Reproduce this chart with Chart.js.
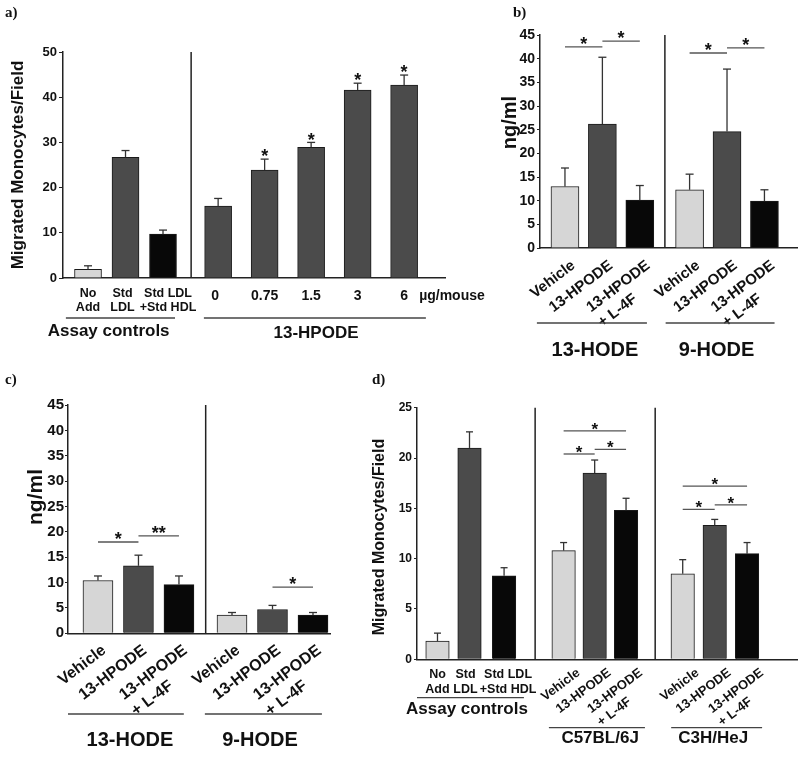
<!DOCTYPE html>
<html><head><meta charset="utf-8">
<script src="https://cdn.jsdelivr.net/npm/chart.js@4.4.1/dist/chart.umd.min.js"></script>
<style>
html,body{margin:0;padding:0;background:#fff;}
#wrap{position:relative;width:800px;height:758px;overflow:hidden;background:#fff;}
canvas{position:absolute;}
</style></head><body>
<div id="wrap">
<canvas id="ca" width="500" height="365" style="left:0;top:0"></canvas>
<canvas id="cb" width="310" height="365" style="left:490px;top:0"></canvas>
<canvas id="cc" width="370" height="393" style="left:0;top:365px"></canvas>
<canvas id="cd" width="435" height="393" style="left:365px;top:365px"></canvas>
</div>
<script>
// ================= DATA =================
// Panel a
const aCategories = [['No','Add'],['Std','LDL'],['Std LDL','+Std HDL'],'0','0.75','1.5','3','6'];
const aValues = [1.9, 26.7, 9.7, 15.9, 23.9, 28.9, 41.6, 42.7];
const aErrors = [0.8, 1.5, 0.9, 1.7, 2.4, 1.1, 1.5, 2.2];
const aStars = [null, null, null, null, '*', '*', '*', '*'];
const aGroups = ['Assay controls', '13-HPODE'];
const aUnit = 'µg/mouse';
const aYTitle = 'Migrated Monocytes/Field';

// Panels b and c share categories
const hodeCategories = ['Vehicle','13-HPODE',['13-HPODE','+ L-4F'],'Vehicle','13-HPODE',['13-HPODE','+ L-4F']];
const hodeGroups = ['13-HODE', '9-HODE'];
const hodeYTitle = 'ng/ml';

// Panel b
const bValues = [13.0, 26.2, 10.1, 12.3, 24.6, 9.9];
const bErrors = [3.9, 14.1, 3.1, 3.3, 13.2, 2.4];
const bSig = [[0,1,42.5,'*'],[1,2,43.7,'*'],[3,4,41.2,'*'],[4,5,42.3,'*']];

// Panel c
const cValues = [10.4, 13.3, 9.6, 3.6, 4.7, 3.6];
const cErrors = [0.9, 2.1, 1.7, 0.5, 0.8, 0.5];
const cSig = [[0,1,18.0,'*'],[1,2,19.2,'**'],[4,5,9.1,'*']];

// Panel d
const dCategories = [['No','Add'],['Std','LDL'],['Std LDL','+Std HDL'],'Vehicle','13-HPODE',['13-HPODE','+ L-4F'],'Vehicle','13-HPODE',['13-HPODE','+ L-4F']];
const dValues = [1.8, 21.0, 8.3, 10.8, 18.5, 14.8, 8.5, 13.3, 10.5];
const dErrors = [0.8, 1.6, 0.8, 0.8, 1.3, 1.2, 1.4, 0.6, 1.1];
const dSig = [[3,5,22.7,'*'],[3,4,20.4,'*'],[4,5,20.85,'*'],[6,8,17.2,'*'],[6,7,14.9,'*'],[7,8,15.35,'*']];
const dGroups = ['Assay controls', 'C57BL/6J', 'C3H/HeJ'];
const dYTitle = 'Migrated Monocytes/Field';

// ================= STYLE / LAYOUT =================
const FONT = "'Liberation Sans', Arial, Helvetica, sans-serif";
const SERIF = "'Liberation Serif', 'Times New Roman', serif";
const LIGHT = '#d6d6d6', DARK = '#4b4b4b', BLACK = '#080808', AX = '#222';
const TXT = '#111';
function fnt(size){ return 'bold ' + size + 'px ' + FONT; }
function line(c, x1, y1, x2, y2){ c.beginPath(); c.moveTo(x1, y1); c.lineTo(x2, y2); c.stroke(); }
function star(c, t, x, yc, size){
  c.font = fnt(size); c.textAlign = 'center'; c.textBaseline = 'alphabetic';
  c.fillText(t, x, yc + 0.57 * size);
}

function decorate(chart, cfg){
  const c = chart.ctx, xs = chart.scales.x, ys = chart.scales.y, area = chart.chartArea;
  const meta = chart.getDatasetMeta(0);
  const base = area.bottom;
  c.save();
  c.fillStyle = TXT;
  // separators
  c.strokeStyle = AX; c.lineWidth = 1.5;
  cfg.separators.forEach(s => { const px = xs.getPixelForValue(s); line(c, px, area.top, px, base); });
  // error bars (upper)
  c.strokeStyle = '#333'; c.lineWidth = 1.3;
  meta.data.forEach((bar, i) => {
    const top = ys.getPixelForValue(cfg.values[i] + cfg.errors[i]);
    line(c, bar.x, bar.y, bar.x, top);
    line(c, bar.x - cfg.cap, top, bar.x + cfg.cap, top);
  });
  // stars over bars
  if (cfg.stars) cfg.stars.forEach((t, i) => {
    if (!t) return;
    const top = ys.getPixelForValue(cfg.values[i] + cfg.errors[i]);
    star(c, t, meta.data[i].x, top - cfg.starGap, cfg.starSize);
  });
  // significance brackets
  c.strokeStyle = '#555'; c.lineWidth = 1.3;
  (cfg.sig || []).forEach(([i, j, v, t]) => {
    const x1 = xs.getPixelForValue(cfg.xs[i]), x2 = xs.getPixelForValue(cfg.xs[j]);
    const y = ys.getPixelForValue(v);
    line(c, x1, y, x2, y);
    star(c, t, (x1 + x2) / 2, y - cfg.starGap, cfg.starSize);
  });
  // x labels
  cfg.labels.forEach((lab, i) => {
    const x = xs.getPixelForValue(cfg.xs[i]);
    const lines = Array.isArray(lab) ? lab : [lab];
    if (cfg.isRot(i)) {
      const r = cfg.rot;
      c.save();
      c.translate(x + r.dx, base + r.dy);
      c.rotate(-r.angle * Math.PI / 180);
      c.font = fnt(r.size); c.textBaseline = 'top';
      const w0 = c.measureText(lines[0]).width;
      c.textAlign = 'right'; c.fillText(lines[0], 0, 0);
      c.textAlign = 'left';
      for (let k = 1; k < lines.length; k++) c.fillText(lines[k], -w0 + r.indent, k * r.size * r.lh);
      c.restore();
    } else {
      const h = cfg.hl;
      const lx = x + (h.dx ? h.dx[i] || 0 : 0);
      c.textAlign = 'center'; c.textBaseline = 'middle';
      if (lines.length === 1) { c.font = fnt(h.singleSize); c.fillText(lines[0], lx, base + h.single); }
      else { c.font = fnt(h.size); lines.forEach((t, k) => c.fillText(t, lx, base + h.rows[k])); }
    }
  });
  // unit text
  if (cfg.unit) {
    c.font = fnt(cfg.unit.size); c.textAlign = 'left'; c.textBaseline = 'middle';
    const lx = xs.getPixelForValue(cfg.xs[cfg.xs.length - 1]) + cfg.unit.dx;
    c.fillText(cfg.unit.text, lx, base + cfg.unit.dy);
  }
  // group underlines and labels
  cfg.groups.forEach(g => {
    const x1 = xs.getPixelForValue(g.from), x2 = xs.getPixelForValue(g.to);
    c.strokeStyle = '#444'; c.lineWidth = 1.3;
    line(c, x1, base + g.ly, x2, base + g.ly);
    c.font = fnt(g.size); c.textAlign = 'center'; c.textBaseline = 'middle';
    c.fillText(g.text, xs.getPixelForValue(g.center), base + g.ty);
  });
  // y title
  c.save();
  c.translate(cfg.yt.x, cfg.yt.y); c.rotate(-Math.PI / 2);
  c.font = fnt(cfg.yt.size); c.textAlign = 'center'; c.textBaseline = 'middle';
  c.fillText(cfg.yt.text, 0, 0);
  c.restore();
  // panel letter
  c.font = 'bold 15px ' + SERIF; c.textAlign = 'left'; c.textBaseline = 'middle';
  c.fillText(cfg.letter.text, cfg.letter.x, cfg.letter.y);
  c.restore();
}

function panel(cfg){
  const ctx = document.getElementById(cfg.id).getContext('2d');
  return new Chart(ctx, {
    type: 'bar',
    data: { datasets: [{
      data: cfg.values.map((v, i) => ({ x: cfg.xs[i], y: v })),
      backgroundColor: cfg.colors, borderColor: '#1a1a1a', borderWidth: 1,
      barThickness: cfg.barW
    }]},
    options: {
      responsive: false, animation: false, events: [], devicePixelRatio: 1,
      layout: { padding: cfg.padding },
      plugins: { legend: { display: false }, tooltip: { enabled: false }, title: { display: false } },
      scales: {
        x: { type: 'linear', min: cfg.xmin, max: cfg.xmax, offset: false,
             grid: { display: false }, ticks: { display: false },
             border: { display: true, color: AX, width: 1.5 },
             afterFit: s => { s.height = cfg.xH; } },
        y: { min: 0, max: cfg.ymax,
             ticks: { stepSize: cfg.ystep, color: TXT, padding: cfg.tickPad,
                      font: { family: FONT, size: cfg.tickSize, weight: 'bold' } },
             grid: { display: true, drawOnChartArea: false, drawTicks: true, tickLength: cfg.tickLen, color: AX, lineWidth: 1 },
             border: { display: true, color: AX, width: 1.5 },
             afterFit: s => { s.width = cfg.yW; } }
      }
    },
    plugins: [{ id: 'deco_' + cfg.id, afterDraw: ch => decorate(ch, cfg) }]
  });
}

// ---- Panel a ----
panel({
  id: 'ca', values: aValues, errors: aErrors, labels: aCategories, stars: aStars,
  xs: [0, 1, 2, 3.47, 4.71, 5.95, 7.19, 8.43], xmin: -0.667, xmax: 9.52,
  padding: { left: 0, top: 52, right: 55, bottom: 0 }, yW: 63, xH: 87,
  colors: [LIGHT, DARK, BLACK, DARK, DARK, DARK, DARK, DARK], barW: 27, cap: 4,
  ymax: 50, ystep: 10, tickSize: 13, tickLen: 4, tickPad: 2,
  yt: { text: aYTitle, x: 18, y: 165, size: 17 },
  separators: [2.75],
  isRot: () => false, hl: { size: 12.5, rows: [16, 30], single: 18, singleSize: 14, dx: [0, -3, 5, -3, 0, 0, 0, 0] },
  starSize: 18, starGap: 7,
  unit: { text: aUnit, dx: 15, dy: 18, size: 14 },
  groups: [
    { text: aGroups[0], from: -0.59, to: 2.32, center: 0.55, ly: 40, ty: 53, size: 17 },
    { text: aGroups[1], from: 3.09, to: 9.01, center: 6.08, ly: 40, ty: 55, size: 17 }
  ],
  letter: { text: 'a)', x: 5, y: 13 }
});

// ---- Panel b ----
panel({
  id: 'cb', values: bValues, errors: bErrors, labels: hodeCategories, sig: bSig,
  xs: [0, 1, 2, 3.33, 4.33, 5.33], xmin: -0.667, xmax: 6.2,
  padding: { left: 0, top: 35, right: 3, bottom: 0 }, yW: 50, xH: 117,
  colors: [LIGHT, DARK, BLACK, LIGHT, DARK, BLACK], barW: 28, cap: 4,
  ymax: 45, ystep: 5, tickSize: 14, tickLen: 3, tickPad: 2,
  yt: { text: hodeYTitle, x: 20, y: 122.5, size: 20 },
  separators: [2.67],
  isRot: () => true, rot: { angle: 37, size: 15, dx: 4, dy: 10, lh: 1.25, indent: 0 },
  starSize: 18, starGap: 7,
  groups: [
    { text: hodeGroups[0], from: -0.75, to: 2.19, center: 0.8, ly: 75, ty: 102, size: 20 },
    { text: hodeGroups[1], from: 2.69, to: 5.6, center: 4.05, ly: 75, ty: 102, size: 20 }
  ],
  letter: { text: 'b)', x: 23, y: 13 }
});

// ---- Panel c ----
panel({
  id: 'cc', values: cValues, errors: cErrors, labels: hodeCategories, sig: cSig,
  xs: [0, 1, 2, 3.31, 4.31, 5.31], xmin: -0.74, xmax: 5.73,
  padding: { left: 0, top: 40, right: 40, bottom: 0 }, yW: 68, xH: 124.7,
  colors: [LIGHT, DARK, BLACK, LIGHT, DARK, BLACK], barW: 30, cap: 4,
  ymax: 45, ystep: 5, tickSize: 15, tickLen: 3, tickPad: 1,
  yt: { text: hodeYTitle, x: 36, y: 132, size: 21 },
  separators: [2.66],
  isRot: () => true, rot: { angle: 37, size: 16, dx: 1.5, dy: 9, lh: 1.25, indent: 0 },
  starSize: 18, starGap: 7.5,
  groups: [
    { text: hodeGroups[0], from: -0.74, to: 2.12, center: 0.79, ly: 80.7, ty: 106.7, size: 20 },
    { text: hodeGroups[1], from: 2.64, to: 5.53, center: 4.0, ly: 80.7, ty: 106.7, size: 20 }
  ],
  letter: { text: 'c)', x: 5, y: 15 }
});

// ---- Panel d ----
panel({
  id: 'cd', values: dValues, errors: dErrors, labels: dCategories, sig: dSig,
  xs: [0, 1, 2.08, 3.94, 4.91, 5.89, 7.66, 8.66, 9.67], xmin: -0.64, xmax: 11.23,
  padding: { left: 0, top: 42.7, right: 3, bottom: 0 }, yW: 52, xH: 98.7,
  colors: [LIGHT, DARK, BLACK, LIGHT, DARK, BLACK, LIGHT, DARK, BLACK], barW: 23.5, cap: 3.5,
  ymax: 25, ystep: 5, tickSize: 12, tickLen: 3, tickPad: 2,
  yt: { text: dYTitle, x: 15, y: 172, size: 16 },
  separators: [3.05, 6.8],
  isRot: i => i >= 3, rot: { angle: 37, size: 13, dx: 11, dy: 7, lh: 1.25, indent: 0 },
  hl: { size: 12.5, rows: [15, 30], single: 18, singleSize: 13, dx: [0, -4, 4] },
  starSize: 17, starGap: 6,
  groups: [
    { text: dGroups[0], from: -0.64, to: 2.7, center: 0.92, ly: 38.4, ty: 50, size: 17 },
    { text: dGroups[1], from: 3.48, to: 6.48, center: 5.08, ly: 68.4, ty: 78.7, size: 17 },
    { text: dGroups[2], from: 7.3, to: 10.14, center: 8.61, ly: 68.4, ty: 78.7, size: 17 }
  ],
  letter: { text: 'd)', x: 7, y: 15 }
});
</script>
</body></html>
